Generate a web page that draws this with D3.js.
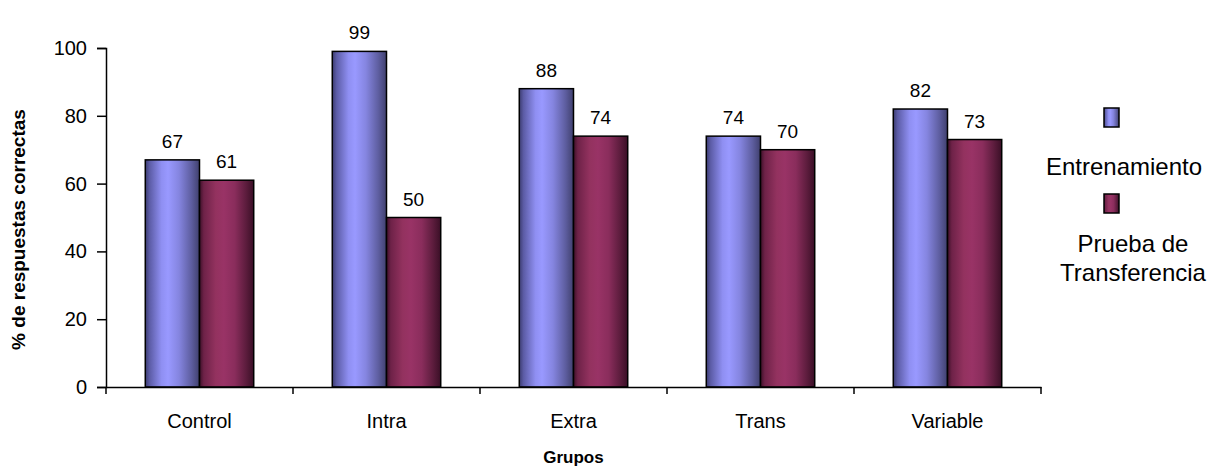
<!DOCTYPE html>
<html>
<head>
<meta charset="utf-8">
<script src="https://cdn.jsdelivr.net/npm/d3@7"></script>
<style>
  html, body { margin: 0; padding: 0; background: #fff; }
  svg { display: block; font-family: "Liberation Sans", Arial, sans-serif; }
</style>
</head>
<body>
<svg id="chart" width="1220" height="467"></svg>
<script>
// Percentage of correct answers by group
const categories = ["Control", "Intra", "Extra", "Trans", "Variable"];
const seriesNames = ["Entrenamiento", "Prueba de Transferencia"];
const entrenamiento = [67, 99, 88, 74, 82];
const transferencia = [61, 50, 74, 70, 73];
const yTicks = [0, 20, 40, 60, 80, 100];

const seriesValues = [entrenamiento, transferencia];
const rows = categories.map((c, i) => ({
  cat: c,
  vals: seriesNames.map((s, j) => ({ key: s, idx: j, value: seriesValues[j][i] }))
}));

const svg = d3.select("#chart");
const plotLeft = 106, plotRight = 1041, plotTop = 48, plotBottom = 387;

const x0 = d3.scaleBand().domain(categories).range([plotLeft, plotRight]);
const bw = x0.bandwidth();
const x1 = d3.scaleBand().domain(seriesNames).range([bw * 0.21, bw * 0.79]);
const y = d3.scaleLinear().domain([0, 100]).range([plotBottom, plotTop]);

// Horizontal shading that gives each bar a cylindrical look
const defs = svg.append("defs");
const shades = [
  { id: "gBlue", stops: [[0, "#3c3c70"], [0.08, "#5c5ca6"], [0.3, "#8f8ff2"], [0.42, "#9999ff"], [0.62, "#8585e0"], [0.85, "#5e5ea0"], [1, "#40406e"]] },
  { id: "gRed", stops: [[0, "#3d1028"], [0.08, "#6e2248"], [0.3, "#93325f"], [0.45, "#993366"], [0.65, "#8a2d5c"], [0.85, "#5e1d3e"], [1, "#3a0f26"]] }
];
shades.forEach(s => {
  const g = defs.append("linearGradient").attr("id", s.id)
    .attr("x1", "0").attr("y1", "0").attr("x2", "1").attr("y2", "0");
  s.stops.forEach(([o, c]) => g.append("stop").attr("offset", o).attr("stop-color", c));
});
const fillFor = j => j === 0 ? "url(#gBlue)" : "url(#gRed)";

// Bars
const groups = svg.append("g").selectAll("g").data(rows).join("g")
  .attr("transform", d => `translate(${x0(d.cat)},0)`);

groups.selectAll("rect").data(d => d.vals).join("rect")
  .attr("x", d => x1(d.key))
  .attr("y", d => y(d.value))
  .attr("width", x1.bandwidth())
  .attr("height", d => y(0) - y(d.value))
  .attr("fill", d => fillFor(d.idx))
  .attr("stroke", "#000")
  .attr("stroke-width", 1.5);

// Value labels
groups.selectAll("text.val").data(d => d.vals).join("text")
  .attr("class", "val")
  .attr("x", d => x1(d.key) + x1.bandwidth() / 2)
  .attr("y", d => y(d.value) - 12)
  .attr("text-anchor", "middle")
  .attr("font-size", 19)
  .attr("fill", "#000")
  .text(d => d.value);

// Y axis
const yAxis = svg.append("g").attr("transform", `translate(${plotLeft},0)`)
  .call(d3.axisLeft(y).tickValues(yTicks).tickSize(9).tickPadding(10));
yAxis.select(".domain").attr("stroke", "#000").attr("stroke-width", 1.5);
yAxis.selectAll(".tick line").attr("stroke", "#000").attr("stroke-width", 1.5);
yAxis.selectAll(".tick text").attr("font-size", 20).attr("fill", "#000")
  .attr("font-family", "Liberation Sans, Arial, sans-serif");

// X axis with ticks between categories
const xAxis = svg.append("g").attr("transform", `translate(0,${plotBottom})`)
  .call(d3.axisBottom(x0).tickSize(0).tickPadding(27));
xAxis.select(".domain").attr("stroke", "#000").attr("stroke-width", 1.5);
xAxis.selectAll(".tick text").attr("font-size", 20).attr("fill", "#000")
  .attr("font-family", "Liberation Sans, Arial, sans-serif");
const bounds = categories.map(c => x0(c)).concat([x0(categories[categories.length - 1]) + bw]);
xAxis.selectAll("line.sep").data(bounds).join("line")
  .attr("class", "sep")
  .attr("x1", d => d).attr("x2", d => d)
  .attr("y1", 0).attr("y2", 7)
  .attr("stroke", "#000").attr("stroke-width", 1.5);

// Axis titles
svg.append("text")
  .attr("x", (plotLeft + plotRight) / 2).attr("y", 463)
  .attr("text-anchor", "middle").attr("font-size", 17).attr("font-weight", "bold")
  .text("Grupos");
svg.append("text")
  .attr("transform", `translate(25,${(plotTop + plotBottom) / 2 + 12}) rotate(-90)`)
  .attr("text-anchor", "middle").attr("font-size", 19).attr("font-weight", "bold")
  .text("% de respuestas correctas");

// Legend
const legend = svg.append("g");
const legendItems = [
  { idx: 0, boxY: 108, lines: ["Entrenamiento"], textY: [175], cx: 1124 },
  { idx: 1, boxY: 194, lines: ["Prueba de", "Transferencia"], textY: [252, 281], cx: 1133 }
];
legendItems.forEach(it => {
  legend.append("rect")
    .attr("x", 1104).attr("y", it.boxY).attr("width", 15).attr("height", 19)
    .attr("fill", fillFor(it.idx)).attr("stroke", "#000").attr("stroke-width", 1.5);
  it.lines.forEach((t, k) => {
    legend.append("text")
      .attr("x", it.cx).attr("y", it.textY[k])
      .attr("text-anchor", "middle").attr("font-size", 24).attr("fill", "#000")
      .text(t);
  });
});
</script>
</body>
</html>
